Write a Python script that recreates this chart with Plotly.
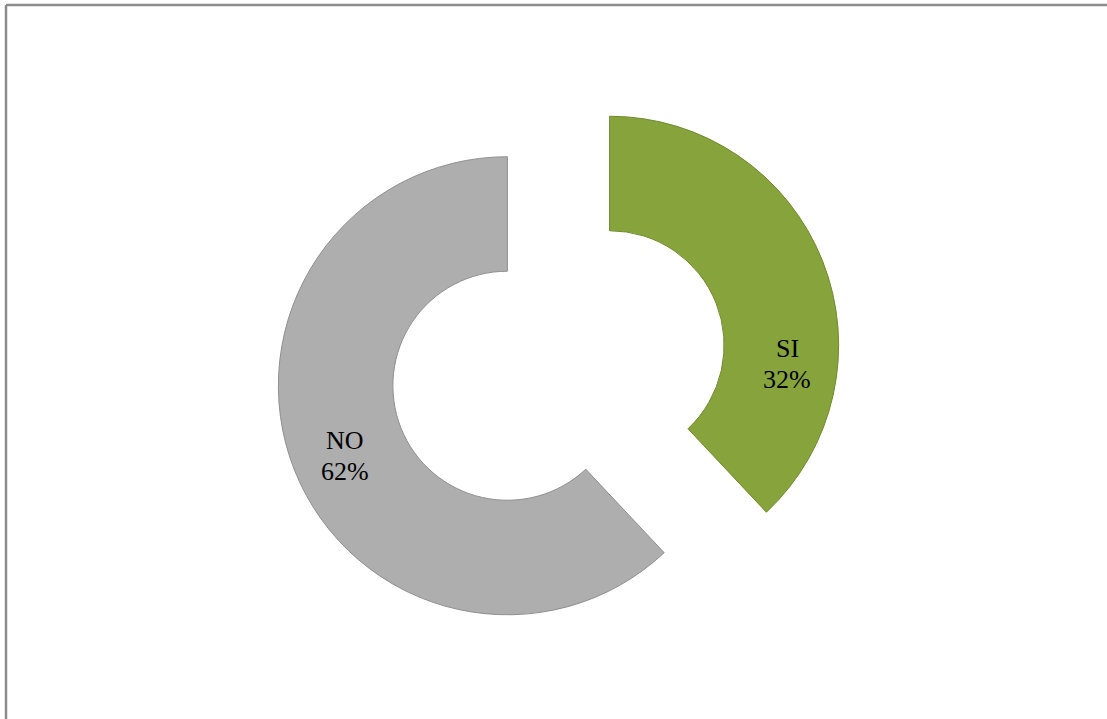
"""Exploded donut chart: SI / NO answers."""
import plotly.graph_objects as go

# data
categories = ["SI", "NO"]
slice_share = [38, 62]          # share of the ring each slice covers
printed_pct = ["32%", "62%"]    # percentages as printed on the chart
slice_colors = ["#86A33C", "#AEAEAE"]
edge_colors = ["#6E8A2B", "#8F8F8F"]

W, H = 1107, 719
CX, CY = 558.5, 365.5    # donut centre before the pull, px
SIDE = 568               # pie domain (min side), px

fig = go.Figure(
    go.Pie(
        labels=categories,
        values=slice_share,
        sort=False,
        direction="clockwise",
        rotation=0,
        hole=0.5,
        pull=[0.24, 0.24],
        marker=dict(colors=slice_colors, line=dict(color=edge_colors, width=1)),
        textinfo="none",
        hoverinfo="label+percent",
        showlegend=False,
        domain=dict(
            x=[(CX - SIDE / 2 - 100) / W, (CX + SIDE / 2 + 100) / W],
            y=[1 - (CY + SIDE / 2) / H, 1 - (CY - SIDE / 2) / H],
        ),
    )
)

# slice labels (two lines each), placed where the original chart puts them
label_pos = [(787, 364), (345, 456)]
line_gap = 31
lab_font = dict(family="Liberation Serif", size=26, color="#000000")
for cat, pct, (px, py) in zip(categories, printed_pct, label_pos):
    for txt, yy in ((cat, py - line_gap / 2), (pct, py + line_gap / 2)):
        fig.add_annotation(
            x=px / W, y=1 - yy / H, xref="paper", yref="paper",
            xanchor="center", yanchor="middle",
            text=txt, showarrow=False, font=lab_font,
        )

# chart-area frame (only top and left edges visible)
frame = dict(color="#8C8C8C", width=2.5)
fig.add_shape(type="line", xref="paper", yref="paper",
              x0=6 / W, y0=1 - 5 / H, x1=1.0, y1=1 - 5 / H, line=frame)
fig.add_shape(type="line", xref="paper", yref="paper",
              x0=6 / W, y0=1 - 5 / H, x1=6 / W, y1=0.0, line=frame)

fig.update_layout(
    width=W, height=H,
    margin=dict(l=0, r=0, t=0, b=0),
    paper_bgcolor="white",
    plot_bgcolor="white",
)

fig.write_html(
    "out.html",
    config={"displayModeBar": False},
    post_script="document.body.style.margin='0px';",
)
